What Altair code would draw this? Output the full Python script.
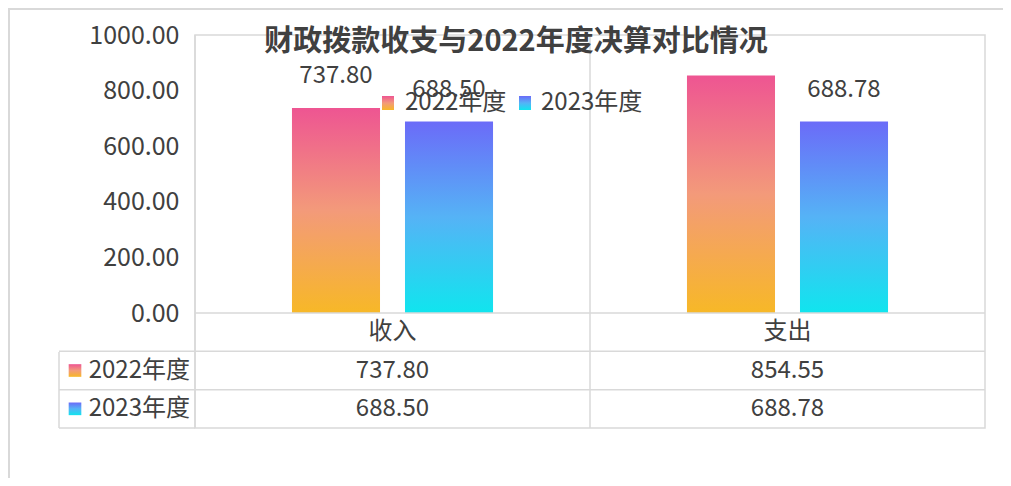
import altair as alt
import pandas as pd

# ---------------- data ----------------
categories = ["收入", "支出"]
series = ["2022年度", "2023年度"]
values_2022 = [737.80, 854.55]
values_2023 = [688.50, 688.78]
y_ticks = [0, 200, 400, 600, 800, 1000]
title_text = "财政拨款收支与2022年度决算对比情况"
header_key = "类别"

rows = []
for s, vals in zip(series, [values_2022, values_2023]):
    for c, v in zip(categories, vals):
        rows.append({"cat": c, "series": s, "value": v, "label": f"{v:.2f}"})
df = pd.DataFrame(rows)
# the 支出/2022 bar label is hidden under the title in the original
df["show"] = ~((df["cat"] == "支出") & (df["series"] == "2022年度"))

table_df = pd.concat([
    pd.DataFrame({"cat": categories, "row": header_key, "text": categories}),
    pd.DataFrame({"cat": df["cat"], "row": df["series"], "text": df["label"]}),
], ignore_index=True)

row_df = pd.DataFrame({"row": series})
cat_df = pd.DataFrame({"cat": categories})
one = pd.DataFrame({"k": [0]})

# ---------------- style ----------------
FONT = "Noto Sans CJK SC"
TXT = "#404040"
LINE = "#D9D9D9"
W, H = 790, 393
BAR_H = 278

grad = {
    "2022年度": {"gradient": "linear", "x1": 0, "y1": 0, "x2": 0, "y2": 1,
                "stops": [{"offset": 0, "color": "#EE5592"},
                          {"offset": 0.5, "color": "#F39A7A"},
                          {"offset": 1, "color": "#F7B827"}]},
    "2023年度": {"gradient": "linear", "x1": 0, "y1": 0, "x2": 0, "y2": 1,
                "stops": [{"offset": 0, "color": "#6B6BF8"},
                          {"offset": 0.5, "color": "#55B3F6"},
                          {"offset": 1, "color": "#10E5EE"}]},
}

xsc = alt.Scale(domain=categories, paddingInner=0, paddingOuter=0)
xoff = alt.Scale(domain=series, paddingInner=0.221, paddingOuter=0.858)
ysc = alt.Scale(domain=[0, 1000], range=[BAR_H, 0], nice=False, zero=True)
rowsc = alt.Scale(domain=[header_key] + series, range=[BAR_H, H], paddingInner=0, paddingOuter=0)

yax = alt.Axis(values=y_ticks, format=".2f", labelFontSize=25, labelColor=TXT, labelFont=FONT,
               ticks=False, domain=False, grid=False, labelPadding=16, title=None)

X = alt.X("cat:N", scale=xsc, axis=None, sort=categories)

# ---------------- layers ----------------
bars = []
for i, s in enumerate(series):
    bars.append(
        alt.Chart(df[df["series"] == s]).mark_bar(color=grad[s]).encode(
            x=X,
            xOffset=alt.XOffset("series:N", scale=xoff, sort=series),
            y=alt.Y("value:Q", scale=ysc, axis=yax if i == 0 else None),
        )
    )

bar_labels = alt.Chart(df[df["show"]]).mark_text(
    font=FONT, fontSize=24, color=TXT, baseline="middle", dy=-32
).encode(
    x=X,
    xOffset=alt.XOffset("series:N", scale=xoff, sort=series),
    y=alt.Y("value:Q", scale=ysc, axis=None),
    text="label:N",
)

# vertical separators at the start of each category band
col_rules = alt.Chart(cat_df).mark_rule(color=LINE, strokeWidth=1.5).encode(
    x=alt.X("cat:N", scale=xsc, axis=None, sort=categories, bandPosition=0),
    y=alt.value(0), y2=alt.value(H),
)

zero_rule = alt.Chart(one).mark_rule(color=LINE, strokeWidth=1.5).encode(
    y=alt.Y(datum=0, type="quantitative", scale=ysc, axis=None),
    x=alt.value(0), x2=alt.value(W),
)

row_rules = alt.Chart(row_df).mark_rule(color=LINE, strokeWidth=1.5).encode(
    y=alt.Y("row:N", scale=rowsc, axis=None, bandPosition=0),
    x=alt.value(-136), x2=alt.value(W),
)
left_box = alt.Chart(one).mark_rule(color=LINE, strokeWidth=1.5).encode(
    x=alt.value(-136), y=alt.value(317), y2=alt.value(H)
)
bottom_box = alt.Chart(one).mark_rule(color=LINE, strokeWidth=1.5).encode(
    x=alt.value(-136), x2=alt.value(0), y=alt.value(H)
)
frame_left = alt.Chart(one).mark_rule(color=LINE, strokeWidth=2).encode(
    x=alt.value(-186), y=alt.value(-27), y2=alt.value(443)
)
frame_top = alt.Chart(one).mark_rule(color=LINE, strokeWidth=2).encode(
    y=alt.value(-26), x=alt.value(-187), x2=alt.value(808)
)

table_text = alt.Chart(table_df).mark_text(
    font=FONT, fontSize=24, color=TXT, baseline="middle"
).encode(
    x=X,
    y=alt.Y("row:N", scale=rowsc, axis=None),
    text="text:N",
)

row_labels = alt.Chart(row_df).mark_text(
    font=FONT, fontSize=24, color=TXT, baseline="middle", align="right"
).encode(
    x=alt.value(-5),
    y=alt.Y("row:N", scale=rowsc, axis=None),
    text="row:N",
)

swatches = []
for s in series:
    swatches.append(
        alt.Chart(pd.DataFrame({"row": [s]})).mark_square(fill=grad[s], size=160, opacity=1).encode(
            x=alt.value(-120),
            y=alt.Y("row:N", scale=rowsc, axis=None),
        )
    )

# legend at top
leg_sw = []
leg_tx = []
leg_pos = {"2022年度": (193, 210), "2023年度": (330, 346)}
for s in series:
    sx, tx = leg_pos[s]
    leg_sw.append(
        alt.Chart(one).mark_rect(fill=grad[s]).encode(
            x=alt.value(sx - 6), x2=alt.value(sx + 6), y=alt.value(61), y2=alt.value(75)
        )
    )
    leg_tx.append(
        alt.Chart(pd.DataFrame({"t": [s]})).mark_text(
            font=FONT, fontSize=24, color=TXT, baseline="middle", align="left"
        ).encode(x=alt.value(tx), y=alt.value(68), text="t:N")
    )

title = alt.Chart(pd.DataFrame({"t": [title_text]})).mark_text(
    font=FONT, fontSize=29, fontWeight="bold", color=TXT, baseline="middle", align="center"
).encode(x=alt.value(321), y=alt.value(7), text="t:N")

chart = alt.layer(
    frame_left, frame_top, col_rules,
    *bars,
    zero_rule, row_rules, left_box, bottom_box,
    bar_labels, table_text, row_labels,
    *swatches, *leg_sw, *leg_tx, title,
).resolve_scale(y="independent").properties(
    width=W, height=H,
    padding={"left": 187, "top": 27, "right": 18, "bottom": 50},
    autosize=alt.AutoSizeParams(type="none"),
    background="white",
).configure_view(stroke=LINE, strokeWidth=1.5)

chart.save("out.html", embed_options={"renderer": "svg", "actions": False})
